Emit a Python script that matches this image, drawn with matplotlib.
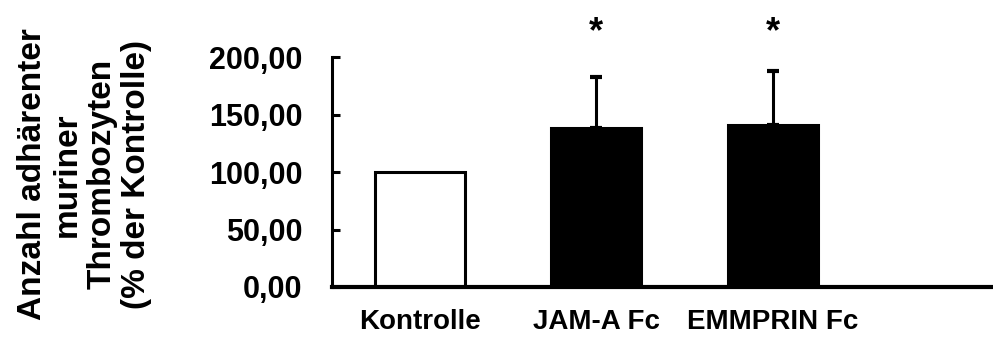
import matplotlib
matplotlib.use("Agg")
import matplotlib.pyplot as plt
from matplotlib.ticker import FuncFormatter

categories = ["Kontrolle", "JAM-A Fc", "EMMPRIN Fc"]
values = [100.0, 138.5, 140.8]
errors = [0.0, 44.5, 47.0]
colors = ["white", "black", "black"]
significant = [False, True, True]
yticks = [0, 50, 100, 150, 200]
ylabel = "Anzahl adhärenter\nmuriner\nThrombozyten\n(% der Kontrolle)"

plt.rcParams['font.family'] = ['Liberation Sans', 'DejaVu Sans']
plt.rcParams['font.weight'] = 'bold'

fig = plt.figure(figsize=(9.93, 3.38), dpi=100)
ax = fig.add_axes([0.334, 0.151, 0.666, 0.680])

x = list(range(len(categories)))
ax.bar(x, values, width=0.51, color=colors, edgecolor="black", linewidth=2.2, zorder=2)
for xi, v, e in zip(x, values, errors):
    if e > 0:
        ax.errorbar([xi], [v], yerr=[[0], [e]], fmt="none", ecolor="black",
                    elinewidth=2.2, capsize=4.5, capthick=3, zorder=1)
for xi, v, e, s in zip(x, values, errors, significant):
    if s:
        ax.text(xi, 213, "*", ha="center", va="baseline", fontsize=26,
                fontweight="bold", clip_on=False)

ax.set_xlim(-0.5, 3.25)
ax.set_ylim(0, 200)
ax.set_yticks(yticks)
ax.yaxis.set_major_formatter(FuncFormatter(lambda v, p: f"{v:.2f}".replace(".", ",")))
ax.set_xticks(x)
ax.set_xticklabels(categories)
ax.tick_params(axis="y", direction="in", length=6, width=2.2, labelsize=22, pad=21)
ax.tick_params(axis="x", length=0, labelsize=20, pad=16)
for lab in ax.get_xticklabels() + ax.get_yticklabels():
    lab.set_fontweight("bold")

ax.spines["top"].set_visible(False)
ax.spines["right"].set_visible(False)
ax.spines["left"].set_linewidth(2.2)
ax.spines["bottom"].set_linewidth(3)

ax.set_ylabel(ylabel, fontsize=24, fontweight="bold", linespacing=1.15)
ax.yaxis.set_label_coords(-0.272, 0.49)

fig.savefig("out.png", dpi=100)
